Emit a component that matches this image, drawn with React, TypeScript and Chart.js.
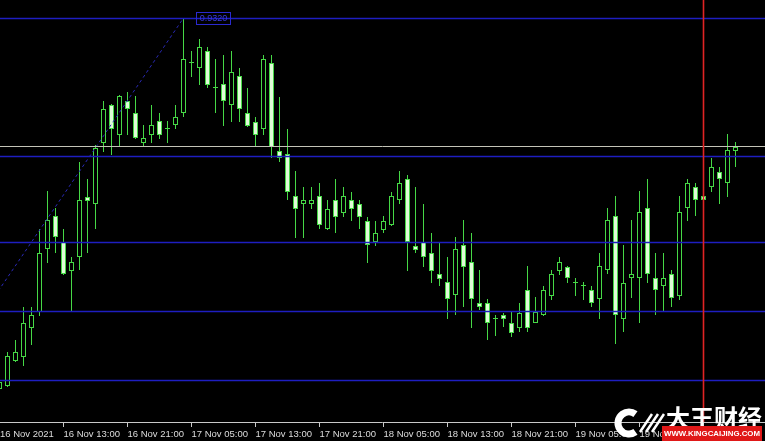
import React, { useEffect, useRef } from "react";
import { Chart, registerables } from "chart.js";

Chart.register(...registerables);

// Hourly candles (index 0 = 16 Nov 05:00)
const opens = [
  0.92458, 0.92464, 0.92514, 0.92522, 0.9258, 0.92612, 0.92738, 0.92804, 0.92752, 0.92694,
  0.92722, 0.92842, 0.92828, 0.9295, 0.93026, 0.92966, 0.93034, 0.9301, 0.9295, 0.92966,
  0.92994, 0.92978, 0.92986, 0.9301, 0.9311, 0.931, 0.93134, 0.9306, 0.93068, 0.93026,
  0.93084, 0.9301, 0.92992, 0.92978, 0.9311, 0.92934, 0.92928, 0.92844, 0.92828, 0.92828,
  0.92844, 0.92778, 0.92836, 0.9281, 0.92836, 0.92828, 0.92794, 0.92752, 0.92776, 0.92786,
  0.92836, 0.92878, 0.92744, 0.92752, 0.9273, 0.92688, 0.92672, 0.92646, 0.92746, 0.92712,
  0.9263, 0.9263, 0.92598, 0.92606, 0.9259, 0.9258, 0.92656, 0.9259, 0.92606, 0.92644,
  0.92694, 0.92702, 0.9267, 0.92664, 0.92656, 0.92638, 0.92696, 0.92804, 0.92598, 0.9268,
  0.9268, 0.9282, 0.9268, 0.92664, 0.92688, 0.92644, 0.9282, 0.92862, 0.92844, 0.92862,
  0.92892, 0.9287, 0.92934,
];
const highs = [
  0.9248, 0.92532, 0.92556, 0.92622, 0.92622, 0.92778, 0.92854, 0.9282, 0.92778, 0.92722,
  0.92912, 0.92878, 0.92946, 0.93034, 0.93028, 0.93046, 0.93052, 0.93044, 0.92986, 0.93026,
  0.9301, 0.92994, 0.93026, 0.932, 0.93134, 0.93158, 0.93142, 0.93118, 0.93126, 0.93134,
  0.931, 0.9306, 0.93002, 0.93126, 0.93126, 0.93042, 0.92978, 0.92894, 0.92862, 0.92862,
  0.9287, 0.92836, 0.92878, 0.92862, 0.92852, 0.92836, 0.92802, 0.92794, 0.92804, 0.92852,
  0.92894, 0.92886, 0.92862, 0.92828, 0.9277, 0.92752, 0.92722, 0.92762, 0.92796, 0.9277,
  0.92696, 0.92638, 0.92606, 0.9261, 0.92612, 0.9263, 0.92704, 0.92642, 0.92664, 0.92696,
  0.92722, 0.92704, 0.9268, 0.92672, 0.92664, 0.9273, 0.9282, 0.92844, 0.92746, 0.92796,
  0.92854, 0.92878, 0.9273, 0.9273, 0.92696, 0.92844, 0.92878, 0.9287, 0.92844, 0.9292,
  0.92902, 0.92968, 0.92952,
];
const lows = [
  0.92452, 0.92462, 0.92512, 0.92504, 0.92546, 0.92604, 0.9271, 0.9273, 0.92686, 0.92614,
  0.92696, 0.9273, 0.92778, 0.92932, 0.92926, 0.92942, 0.92966, 0.92958, 0.92942, 0.9295,
  0.92958, 0.9295, 0.92978, 0.93002, 0.93082, 0.93066, 0.9306, 0.9301, 0.92984, 0.92992,
  0.92992, 0.92982, 0.92942, 0.92966, 0.9292, 0.92912, 0.92836, 0.9276, 0.9276, 0.92818,
  0.92778, 0.92776, 0.9277, 0.92802, 0.92794, 0.92778, 0.9271, 0.92744, 0.9277, 0.92784,
  0.92828, 0.92694, 0.9273, 0.92702, 0.9267, 0.92664, 0.92598, 0.92606, 0.92622, 0.9258,
  0.92616, 0.92556, 0.92564, 0.92582, 0.92562, 0.92572, 0.92572, 0.9259, 0.92604, 0.92636,
  0.92686, 0.9267, 0.92644, 0.92636, 0.92622, 0.92598, 0.92688, 0.92548, 0.92572, 0.9264,
  0.9259, 0.9267, 0.92606, 0.92612, 0.92622, 0.92636, 0.92794, 0.92804, 0.92836, 0.92852,
  0.92828, 0.92842, 0.92902,
];
const closes = [
  0.92472, 0.92524, 0.92532, 0.9259, 0.92606, 0.9273, 0.92796, 0.92762, 0.92688, 0.92712,
  0.92836, 0.92834, 0.9294, 0.93018, 0.92978, 0.93044, 0.93018, 0.9296, 0.9296, 0.92986,
  0.92966, 0.9298, 0.93002, 0.93118, 0.93112, 0.93142, 0.93066, 0.93062, 0.93034, 0.93092,
  0.93018, 0.92984, 0.92966, 0.93118, 0.92942, 0.9292, 0.92852, 0.92818, 0.92836, 0.92836,
  0.92786, 0.92818, 0.92802, 0.92844, 0.92818, 0.92802, 0.92746, 0.9277, 0.92794, 0.92844,
  0.9287, 0.92752, 0.92736, 0.92722, 0.92694, 0.92678, 0.92638, 0.92738, 0.92702, 0.92638,
  0.92622, 0.9259, 0.926, 0.92598, 0.9257, 0.9261, 0.9258, 0.92612, 0.92656, 0.92688,
  0.92712, 0.9268, 0.92672, 0.92666, 0.9263, 0.92704, 0.92796, 0.92606, 0.9267, 0.92688,
  0.92812, 0.92688, 0.92656, 0.9268, 0.9264, 0.92812, 0.9287, 0.92836, 0.92836, 0.92902,
  0.92878, 0.92936, 0.92942,
];

const tickIndices = [0, 8, 16, 24, 32, 40, 48, 56, 64, 72, 80, 88];
const tickLabels = [
  "16 Nov 2021", "16 Nov 13:00", "16 Nov 21:00", "17 Nov 05:00", "17 Nov 13:00", "17 Nov 21:00",
  "18 Nov 05:00", "18 Nov 13:00", "18 Nov 21:00", "19 Nov 05:00", "19 Nov 13:00", "19 Nov 21:00",
];

const levelLines = [0.932, 0.92924, 0.92752, 0.92614, 0.92476];
const bidLine = 0.92944;
const cursorIndex = 88;
const trendStart = { x: -1, y: 0.92634 };
const trendEnd = { x: 23, y: 0.932 };
const trendLabel = "0.9320";

const GREEN = "#46d846";
const BEAR_FILL = "#e0fcd8";
const LEVEL_COLOR = "#1e1ec0";

const overlay = {
  id: "mt4overlay",
  beforeDraw(chart: any) {
    const { ctx, width, height } = chart;
    ctx.save();
    ctx.fillStyle = "#000";
    ctx.fillRect(0, 0, width, height);
    ctx.restore();
  },
  afterDatasetsDraw(chart: any) {
    const { ctx, chartArea: a, scales } = chart;
    const xs = scales.x;
    const ys = scales.y;
    ctx.save();
    ctx.beginPath();
    ctx.rect(a.left, a.top, a.right - a.left, a.bottom - a.top);
    ctx.clip();
    ctx.lineWidth = 1.6;
    ctx.strokeStyle = LEVEL_COLOR;
    for (const v of levelLines) {
      const py = Math.round(ys.getPixelForValue(v)) + 0.5;
      ctx.beginPath();
      ctx.moveTo(a.left, py);
      ctx.lineTo(a.right, py);
      ctx.stroke();
    }
    ctx.lineWidth = 1;
    const by = Math.round(ys.getPixelForValue(bidLine)) + 0.5;
    ctx.strokeStyle = "#c4c4b8";
    ctx.beginPath();
    ctx.moveTo(a.left, by);
    ctx.lineTo(a.right, by);
    ctx.stroke();
    const rx = Math.floor(xs.getPixelForValue(cursorIndex)) + 0.5;
    ctx.lineWidth = 1.6;
    ctx.strokeStyle = "#e02424";
    ctx.beginPath();
    ctx.moveTo(rx, a.top);
    ctx.lineTo(rx, a.bottom);
    ctx.stroke();
    // trend label box
    ctx.lineWidth = 1;
    const lx = Math.round(xs.getPixelForValue(trendEnd.x)) + 12;
    const ly = Math.round(ys.getPixelForValue(trendEnd.y)) - 6;
    ctx.strokeStyle = "#2a2ad0";
    ctx.strokeRect(lx + 0.5, ly + 0.5, 34, 12);
    ctx.fillStyle = "#3a3ae0";
    ctx.font = '9px "Liberation Sans", Arial, sans-serif';
    ctx.textBaseline = "middle";
    ctx.textAlign = "center";
    ctx.fillText(trendLabel, lx + 17.5, ly + 7);
    ctx.restore();

    // time axis
    ctx.save();
    ctx.strokeStyle = "#c8c8c8";
    ctx.lineWidth = 1;
    ctx.beginPath();
    ctx.moveTo(0, a.bottom - 0.5);
    ctx.lineTo(chart.width, a.bottom - 0.5);
    ctx.stroke();
    ctx.fillStyle = "#dcdcdc";
    ctx.font = '9.5px "Liberation Sans", Arial, sans-serif';
    ctx.textAlign = "left";
    ctx.textBaseline = "alphabetic";
    tickIndices.forEach((k, i) => {
      const px = Math.floor(xs.getPixelForValue(k)) + 0.5;
      ctx.beginPath();
      ctx.moveTo(px, a.bottom);
      ctx.lineTo(px, a.bottom + 4);
      ctx.stroke();
      ctx.fillText(tickLabels[i], Math.max(px, 0), a.bottom + 14);
    });
    ctx.restore();
  },
  afterDraw(chart: any) {
    const { ctx } = chart;
    ctx.save();
    // watermark logo
    ctx.strokeStyle = "#ffffff";
    ctx.lineWidth = 7;
    ctx.beginPath();
    ctx.arc(629, 423, 11, 0.3 * Math.PI, 1.7 * Math.PI);
    ctx.stroke();
    ctx.lineWidth = 2.5;
    for (let i = 0; i < 3; i++) {
      ctx.beginPath();
      ctx.moveTo(640 + i * 6, 432);
      ctx.lineTo(652 + i * 6, 414);
      ctx.stroke();
    }
    ctx.fillStyle = "#ffffff";
    ctx.font = 'bold 24px "Noto Sans CJK SC", sans-serif';
    ctx.textAlign = "left";
    ctx.textBaseline = "alphabetic";
    ctx.fillText("大王财经", 666, 427);
    ctx.fillStyle = "#e01818";
    ctx.fillRect(662, 426, 100, 15);
    ctx.fillStyle = "#ffffff";
    ctx.font = 'bold 8px "Liberation Sans", Arial, sans-serif';
    ctx.textAlign = "center";
    ctx.textBaseline = "middle";
    ctx.fillText("WWW.KINGCAIJING.COM", 712, 434, 96);
    ctx.restore();
  },
};

export default function App() {
  const ref = useRef<HTMLCanvasElement | null>(null);
  useEffect(() => {
    if (!ref.current) return;
    const bodies = opens.map((o, i) => ({ x: i, y: [o, closes[i]] }));
    const wicks = opens.map((_o, i) => ({ x: i, y: [lows[i], highs[i]] }));
    const bodyFill = opens.map((o, i) =>
      Math.abs(o - closes[i]) < 0.000025 ? GREEN : closes[i] > o ? "#000000" : BEAR_FILL
    );
    const chart = new Chart(ref.current, {
      type: "bar",
      data: {
        datasets: [
          {
            type: "bar",
            data: bodies as any,
            backgroundColor: bodyFill,
            borderColor: GREEN,
            borderWidth: 1,
            borderSkipped: false,
            barThickness: 5,
            grouped: false,
            inflateAmount: 0,
            order: 1,
          } as any,
          {
            type: "bar",
            data: wicks as any,
            backgroundColor: GREEN,
            borderWidth: 0,
            barThickness: 1,
            grouped: false,
            inflateAmount: 0,
            order: 2,
          } as any,
          {
            type: "line",
            data: [trendStart, trendEnd] as any,
            borderColor: "#2a2ab8",
            borderWidth: 1,
            borderDash: [3, 3],
            pointRadius: 0,
            order: 0,
          } as any,
        ],
      },
      options: {
        animation: false,
        responsive: false,
        events: [],
        layout: { padding: { left: 0, right: 0, top: 0, bottom: 18 } },
        plugins: { legend: { display: false }, tooltip: { enabled: false } },
        scales: {
          x: { type: "linear", display: false, min: 0.0625, max: 95.6875, offset: false },
          y: { type: "linear", display: false, min: 0.9239, max: 0.93236 },
        },
      } as any,
      plugins: [overlay],
    });
    return () => chart.destroy();
  }, []);
  return (
    <div style={{ position: "fixed", left: 0, top: 0, width: 765, height: 441, background: "#000" }}>
      <canvas ref={ref} width={765} height={441} style={{ width: 765, height: 441, display: "block" }} />
    </div>
  );
}
